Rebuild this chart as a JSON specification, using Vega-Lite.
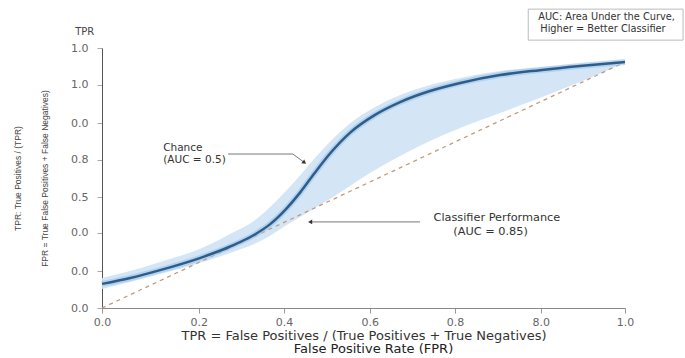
{
  "$schema": "https://vega.github.io/schema/vega-lite/v6.json",
  "autosize": "none",
  "width": 523,
  "height": 260,
  "padding": {"left": 102, "top": 48, "right": 60, "bottom": 50},
  "background": "white",
  "config": {
    "font": "DejaVu Sans",
    "view": {"stroke": null},
    "title": {"font": "DejaVu Sans"}
  },
  "title": {
    "text": "False Positive Rate (FPR)",
    "orient": "bottom",
    "anchor": "middle",
    "fontSize": 13,
    "fontWeight": 500,
    "color": "#222",
    "offset": 1,
    "dx": 10
  },
  "datasets": {
    "curve": [
      {"x": 0.0, "y": 0.098},
      {"x": 0.054, "y": 0.122},
      {"x": 0.111, "y": 0.154},
      {"x": 0.187, "y": 0.203},
      {"x": 0.245, "y": 0.250},
      {"x": 0.293, "y": 0.300},
      {"x": 0.321, "y": 0.340},
      {"x": 0.350, "y": 0.398},
      {"x": 0.379, "y": 0.470},
      {"x": 0.407, "y": 0.550},
      {"x": 0.436, "y": 0.628},
      {"x": 0.474, "y": 0.712},
      {"x": 0.522, "y": 0.785},
      {"x": 0.570, "y": 0.837},
      {"x": 0.627, "y": 0.882},
      {"x": 0.685, "y": 0.915},
      {"x": 0.761, "y": 0.947},
      {"x": 0.837, "y": 0.967},
      {"x": 0.914, "y": 0.984},
      {"x": 1.0, "y": 1.0}
    ],
    "band": [
      {"x": 0.0, "y": 0.077, "y2": 0.122},
      {"x": 0.054, "y": 0.106, "y2": 0.150},
      {"x": 0.111, "y": 0.138, "y2": 0.187},
      {"x": 0.187, "y": 0.183, "y2": 0.240},
      {"x": 0.245, "y": 0.224, "y2": 0.301},
      {"x": 0.293, "y": 0.262, "y2": 0.358},
      {"x": 0.321, "y": 0.293, "y2": 0.410},
      {"x": 0.350, "y": 0.333, "y2": 0.472},
      {"x": 0.379, "y": 0.370, "y2": 0.540},
      {"x": 0.407, "y": 0.407, "y2": 0.610},
      {"x": 0.436, "y": 0.443, "y2": 0.676},
      {"x": 0.474, "y": 0.496, "y2": 0.750},
      {"x": 0.522, "y": 0.561, "y2": 0.817},
      {"x": 0.570, "y": 0.618, "y2": 0.866},
      {"x": 0.627, "y": 0.679, "y2": 0.907},
      {"x": 0.685, "y": 0.732, "y2": 0.935},
      {"x": 0.761, "y": 0.793, "y2": 0.963},
      {"x": 0.837, "y": 0.854, "y2": 0.980},
      {"x": 0.914, "y": 0.919, "y2": 0.992},
      {"x": 1.0, "y": 0.996, "y2": 1.004}
    ],
    "diag": [{"x": 0, "y": 0}, {"x": 1, "y": 1}],
    "arrow1": [
      {"x": 0.241, "y": 0.626, "o": 1},
      {"x": 0.365, "y": 0.626, "o": 2},
      {"x": 0.386, "y": 0.593, "o": 3}
    ],
    "arrow2": [
      {"x": 0.608, "y": 0.350, "o": 1},
      {"x": 0.398, "y": 0.350, "o": 2}
    ],
    "notesLeft": [
      {"x": 0.117, "y": 0.650, "label": "Chance"},
      {"x": 0.117, "y": 0.602, "label": "(AUC = 0.5)"}
    ],
    "notesCenter": [
      {"x": 0.755, "y": 0.366, "label": "Classifier Performance"},
      {"x": 0.743, "y": 0.309, "label": "(AUC = 0.85)"}
    ],
    "box": [{"x": 0.815, "x2": 1.111, "y": 1.215, "y2": 1.089}],
    "boxText": [
      {"x": 0.834, "y": 1.183, "label": "AUC: Area Under the Curve,"},
      {"x": 0.838, "y": 1.134, "label": "Higher = Better Classifier"}
    ],
    "tprLabel": [{"x": -0.033, "y": 1.122, "label": "TPR"}]
  },
  "encoding": {
    "x": {
      "field": "x",
      "type": "quantitative",
      "scale": {"domain": [0, 1], "nice": false, "zero": false},
      "axis": {
        "values": [0, 0.185, 0.348, 0.512, 0.675, 0.839, 1.0],
        "labelExpr": "datum.value < 0.1 ? '0.0' : datum.value < 0.25 ? '0.2' : datum.value < 0.4 ? '0.4' : datum.value < 0.6 ? '0.6' : datum.value < 0.75 ? '0.8' : datum.value < 0.9 ? '8.0' : '1.0'",
        "title": "TPR = False Positives / (True Positives + True Negatives)",
        "titleFontSize": 13,
        "titleFontWeight": "normal",
        "titleColor": "#333",
        "titlePadding": 2,
        "labelFontSize": 11,
        "labelColor": "#666",
        "labelPadding": 3,
        "labelFlush": false,
        "domainColor": "#888",
        "tickColor": "#999",
        "tickSize": 5,
        "grid": false
      }
    },
    "y": {
      "field": "y",
      "type": "quantitative",
      "scale": {"domain": [0, 1.057], "nice": false, "zero": false},
      "axis": {
        "values": [0, 0.150, 0.305, 0.451, 0.602, 0.752, 0.907, 1.057],
        "labelExpr": "datum.value < 0.05 ? '0.0' : datum.value < 0.2 ? '0.0' : datum.value < 0.35 ? '0.0' : datum.value < 0.5 ? '0.5' : datum.value < 0.65 ? '0.8' : datum.value < 0.8 ? '0.0' : '1.0'",
        "title": ["TPR: True Positives / (TPR)", "FPR = True False Positives + False Negatives)"],
        "titleFont": "Liberation Sans",
        "titleFontSize": 8.5,
        "titleFontWeight": "normal",
        "titleColor": "#444",
        "titleLineHeight": 27,
        "titlePadding": 21,
        "labelFontSize": 11,
        "labelColor": "#666",
        "labelPadding": 9,
        "labelFlush": false,
        "domainColor": "#555",
        "tickColor": "#aaa",
        "tickSize": 5,
        "grid": false
      }
    }
  },
  "layer": [
    {
      "data": {"name": "box"},
      "mark": {"type": "rect", "fill": "white", "stroke": "#bbb", "strokeWidth": 1},
      "encoding": {"x2": {"field": "x2"}, "y2": {"field": "y2"}}
    },
    {
      "data": {"name": "boxText"},
      "mark": {"type": "text", "align": "left", "baseline": "middle", "fontSize": 9.8, "color": "#333"},
      "encoding": {"text": {"field": "label"}}
    },
    {
      "data": {"name": "tprLabel"},
      "mark": {"type": "text", "align": "center", "baseline": "middle", "fontSize": 10, "color": "#444"},
      "encoding": {"text": {"field": "label"}}
    },
    {
      "data": {"name": "band"},
      "mark": {"type": "area", "color": "#cfe3f5", "opacity": 0.9, "interpolate": "monotone"},
      "encoding": {"y2": {"field": "y2"}}
    },
    {
      "data": {"name": "diag"},
      "mark": {"type": "line", "color": "#c49a7a", "strokeWidth": 1.3, "strokeDash": [4, 4]},
      "encoding": {}
    },
    {
      "data": {"name": "curve"},
      "mark": {"type": "line", "color": "#9cc5ea", "strokeWidth": 6, "opacity": 0.6, "interpolate": "monotone"},
      "encoding": {}
    },
    {
      "data": {"name": "curve"},
      "mark": {"type": "line", "color": "#2f5d8a", "strokeWidth": 2.5, "interpolate": "monotone"},
      "encoding": {}
    },
    {
      "data": {"name": "arrow1"},
      "mark": {"type": "line", "color": "#555", "strokeWidth": 0.8},
      "encoding": {"order": {"field": "o"}}
    },
    {
      "data": {"name": "arrow2"},
      "mark": {"type": "line", "color": "#555", "strokeWidth": 0.8},
      "encoding": {"order": {"field": "o"}}
    },
    {
      "data": {"name": "arrow1"},
      "transform": [{"filter": "datum.o == 3"}],
      "mark": {"type": "point", "shape": "triangle", "filled": true, "color": "#333", "size": 22, "angle": 127, "opacity": 1},
      "encoding": {}
    },
    {
      "data": {"name": "arrow2"},
      "transform": [{"filter": "datum.o == 2"}],
      "mark": {"type": "point", "shape": "triangle-left", "filled": true, "color": "#333", "size": 22, "opacity": 1},
      "encoding": {}
    },
    {
      "data": {"name": "notesLeft"},
      "mark": {"type": "text", "align": "left", "baseline": "middle", "fontSize": 10.5, "color": "#333"},
      "encoding": {"text": {"field": "label"}}
    },
    {
      "data": {"name": "notesCenter"},
      "mark": {"type": "text", "align": "center", "baseline": "middle", "fontSize": 11.3, "color": "#333"},
      "encoding": {"text": {"field": "label"}}
    }
  ]
}
